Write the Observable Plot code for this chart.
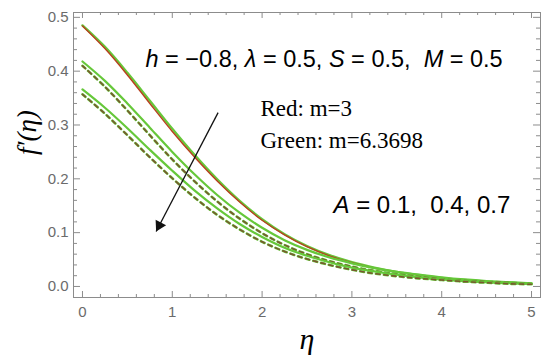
<!DOCTYPE html>
<html>
<head>
<meta charset="utf-8">
<script src="https://cdn.jsdelivr.net/npm/d3@7"></script>
<script src="https://cdn.jsdelivr.net/npm/@observablehq/plot@0.6"></script>
<style>
  html, body { margin: 0; padding: 0; background: #fff; }
  svg text { white-space: pre; }
</style>
</head>
<body>
<div id="chart"></div>
<script>
// ---- data ----
const eta = [0, 0.25, 0.5, 0.75, 1, 1.25, 1.5, 1.75, 2, 2.25, 2.5, 2.75, 3, 3.25, 3.5, 3.75, 4, 4.25, 4.5, 4.75, 5];
// A = 0.1 (solid, both m)
const topGreen = [0.485, 0.445, 0.397, 0.345, 0.293, 0.244, 0.199, 0.159, 0.125, 0.097, 0.075, 0.058, 0.045, 0.035, 0.027, 0.021, 0.016, 0.012, 0.009, 0.007, 0.005];
const topRed   = [0.484, 0.442, 0.393, 0.340, 0.288, 0.240, 0.196, 0.157, 0.123, 0.096, 0.074, 0.057, 0.044, 0.034, 0.027, 0.021, 0.016, 0.012, 0.009, 0.007, 0.005];
// A = 0.4
const midGreen  = [0.418, 0.382, 0.340, 0.295, 0.250, 0.208, 0.170, 0.137, 0.109, 0.086, 0.068, 0.054, 0.043, 0.034, 0.027, 0.022, 0.017, 0.013, 0.010, 0.008, 0.006];
const midDashed = [0.410, 0.371, 0.327, 0.281, 0.236, 0.195, 0.158, 0.126, 0.099, 0.077, 0.060, 0.047, 0.037, 0.029, 0.023, 0.018, 0.014, 0.011, 0.009, 0.007, 0.005];
// A = 0.7
const lowGreen  = [0.366, 0.332, 0.294, 0.254, 0.215, 0.178, 0.145, 0.116, 0.092, 0.072, 0.057, 0.045, 0.035, 0.028, 0.022, 0.017, 0.013, 0.010, 0.008, 0.006, 0.005];
const lowDashed = [0.357, 0.321, 0.281, 0.240, 0.201, 0.165, 0.133, 0.106, 0.083, 0.065, 0.051, 0.040, 0.031, 0.024, 0.019, 0.015, 0.012, 0.009, 0.007, 0.005, 0.004];

const xTicks = [0, 1, 2, 3, 4, 5];
const yTicks = [0, 0.1, 0.2, 0.3, 0.4, 0.5];
const xMinor = d3.range(0, 5.0001, 0.2).map(v => +v.toFixed(2)).filter(v => !xTicks.includes(v));
const yMinor = d3.range(0, 0.5001, 0.02).map(v => +v.toFixed(3)).filter(v => !yTicks.some(t => Math.abs(t - v) < 1e-9));

const arrowLine = [{x1: 1.51, y1: 0.323, x2: 0.82, y2: 0.102}];

const paramSegs = [["h", true], [" = −0.8, ", false], ["λ", true], [" = 0.5, ", false], ["S", true], [" = 0.5,  ", false], ["M", true], [" = 0.5", false]];
const aSegs = [["A", true], [" = 0.1,  0.4, 0.7", false]];
const redLabel = "Red: m=3";
const greenLabel = "Green: m=6.3698";
const xLabel = "η";
const yLabel = "f′(η)";

// ---- build tidy rows ----
const rows = (arr, key) => eta.map((e, i) => ({eta: e, v: arr[i], key}));

const W = 550, H = 362, mL = 73, mR = 10, mT = 12, mB = 65;
const pw = W - mL - mR, ph = H - mT - mB;
const GREEN = "#66c83a", RED = "#b8401e", DASH = "#7a5630";

const joined = segs => segs.map(s => s[0]).join("");

// arrow head geometry
const xs = d3.scaleLinear([-0.1, 5.1], [mL, W - mR]);
const ys = d3.scaleLinear([-0.0205, 0.509], [H - mB, mT]);
const a = arrowLine[0];
const px1 = xs(a.x1), py1 = ys(a.y1), px2 = xs(a.x2), py2 = ys(a.y2);
const len = Math.hypot(px2 - px1, py2 - py1);
const ux = (px2 - px1) / len, uy = (py2 - py1) / len;
const headR = 4.4;
const back = 2 * Math.sqrt(Math.PI * headR * headR / (3 * Math.sqrt(3)));
const head = [{x: xs.invert(px2 - ux * back), y: ys.invert(py2 - uy * back)}];
const headRot = Math.atan2(ux, -uy) * 180 / Math.PI;

const curve = "catmull-rom";
const serif = "'Liberation Serif', 'Times New Roman', serif";

const chart = Plot.plot({
  width: W, height: H,
  marginLeft: mL, marginRight: mR, marginTop: mT, marginBottom: mB,
  x: {domain: [-0.1, 5.1]},
  y: {domain: [-0.0205, 0.509]},
  style: {fontFamily: "'Liberation Sans', Arial, sans-serif", fontSize: "15px", color: "#6b6b6b", background: "#fff"},
  marks: [
    // curves
    Plot.line(rows(topGreen, "tg"), {x: "eta", y: "v", stroke: GREEN, strokeWidth: 2.4, curve}),
    Plot.line(rows(topRed, "tr"), {x: "eta", y: "v", stroke: RED, strokeWidth: 1.4, curve}),
    Plot.line(rows(midGreen, "mg"), {x: "eta", y: "v", stroke: GREEN, strokeWidth: 2.2, curve}),
    Plot.line(rows(midDashed, "md"), {x: "eta", y: "v", stroke: GREEN, strokeWidth: 2.6, strokeDasharray: "4,4", curve}),
    Plot.line(rows(midDashed, "md2"), {x: "eta", y: "v", stroke: DASH, strokeWidth: 1.6, strokeDasharray: "4,4", curve}),
    Plot.line(rows(lowGreen, "lg"), {x: "eta", y: "v", stroke: GREEN, strokeWidth: 2.2, curve}),
    Plot.line(rows(lowDashed, "ld"), {x: "eta", y: "v", stroke: GREEN, strokeWidth: 2.6, strokeDasharray: "4,4", curve}),
    Plot.line(rows(lowDashed, "ld2"), {x: "eta", y: "v", stroke: DASH, strokeWidth: 1.6, strokeDasharray: "4,4", curve}),
    // frame and inward ticks
    Plot.frame({stroke: "#8c8c8c", strokeWidth: 1}),
    Plot.tickY(yTicks, {y: d => d, stroke: "#8c8c8c", insetRight: pw - 7}),
    Plot.tickY(yMinor, {y: d => d, stroke: "#8c8c8c", insetRight: pw - 4}),
    Plot.tickY(yTicks, {y: d => d, stroke: "#8c8c8c", insetLeft: pw - 7}),
    Plot.tickY(yMinor, {y: d => d, stroke: "#8c8c8c", insetLeft: pw - 4}),
    Plot.tickX(xTicks, {x: d => d, stroke: "#8c8c8c", insetTop: ph - 6}),
    Plot.tickX(xMinor, {x: d => d, stroke: "#8c8c8c", insetTop: ph - 3}),
    Plot.tickX(xTicks, {x: d => d, stroke: "#8c8c8c", insetBottom: ph - 6}),
    Plot.tickX(xMinor, {x: d => d, stroke: "#8c8c8c", insetBottom: ph - 3}),
    Plot.axisX({ticks: xTicks, tickSize: 0, tickPadding: 9, tickFormat: d => String(d), label: null}),
    Plot.axisY({ticks: yTicks, tickSize: 0, tickPadding: 5, tickFormat: d3.format(".1f"), label: null}),
    // arrow
    Plot.link(arrowLine, {x1: "x1", y1: "y1", x2: "x2", y2: "y2", stroke: "#111", strokeWidth: 1.3}),
    Plot.dot(head, {x: "x", y: "y", symbol: "triangle", r: headR, fill: "#111", stroke: "none", rotate: headRot}),
    // annotations
    Plot.text([joined(paramSegs)], {frameAnchor: "top-left", dx: 145 - mL, dy: 66 - mT, textAnchor: "start", lineAnchor: "bottom", fontSize: 23.5, fill: "#000"}),
    Plot.text([redLabel], {frameAnchor: "top-left", dx: 260 - mL, dy: 115 - mT, textAnchor: "start", lineAnchor: "bottom", fontSize: 23, fontFamily: serif, fill: "#000"}),
    Plot.text([greenLabel], {frameAnchor: "top-left", dx: 260 - mL, dy: 147 - mT, textAnchor: "start", lineAnchor: "bottom", fontSize: 23, fontFamily: serif, fill: "#000"}),
    Plot.text([joined(aSegs)], {frameAnchor: "top-left", dx: 333 - mL, dy: 212 - mT, textAnchor: "start", lineAnchor: "bottom", fontSize: 24, fill: "#000"}),
    Plot.text([xLabel], {frameAnchor: "bottom", dy: 42, lineAnchor: "middle", fontSize: 30, fontStyle: "italic", fontFamily: serif, fill: "#000"}),
    Plot.text([yLabel], {frameAnchor: "left", dx: -46, rotate: -90, lineAnchor: "middle", fontSize: 27, fontStyle: "italic", fontFamily: serif, fill: "#000"})
  ]
});

// italicise variable names inside the annotation strings
function styleSegs(svg, segs) {
  const plain = joined(segs);
  for (const t of svg.querySelectorAll("text")) {
    if (t.textContent === plain) {
      t.textContent = "";
      t.setAttribute("xml:space", "preserve");
      for (const [s, it] of segs) {
        const sp = document.createElementNS("http://www.w3.org/2000/svg", "tspan");
        sp.textContent = s;
        if (it) sp.setAttribute("font-style", "italic");
        t.appendChild(sp);
      }
    }
  }
}
styleSegs(chart, paramSegs);
styleSegs(chart, aSegs);

document.getElementById("chart").appendChild(chart);
</script>
</body>
</html>
